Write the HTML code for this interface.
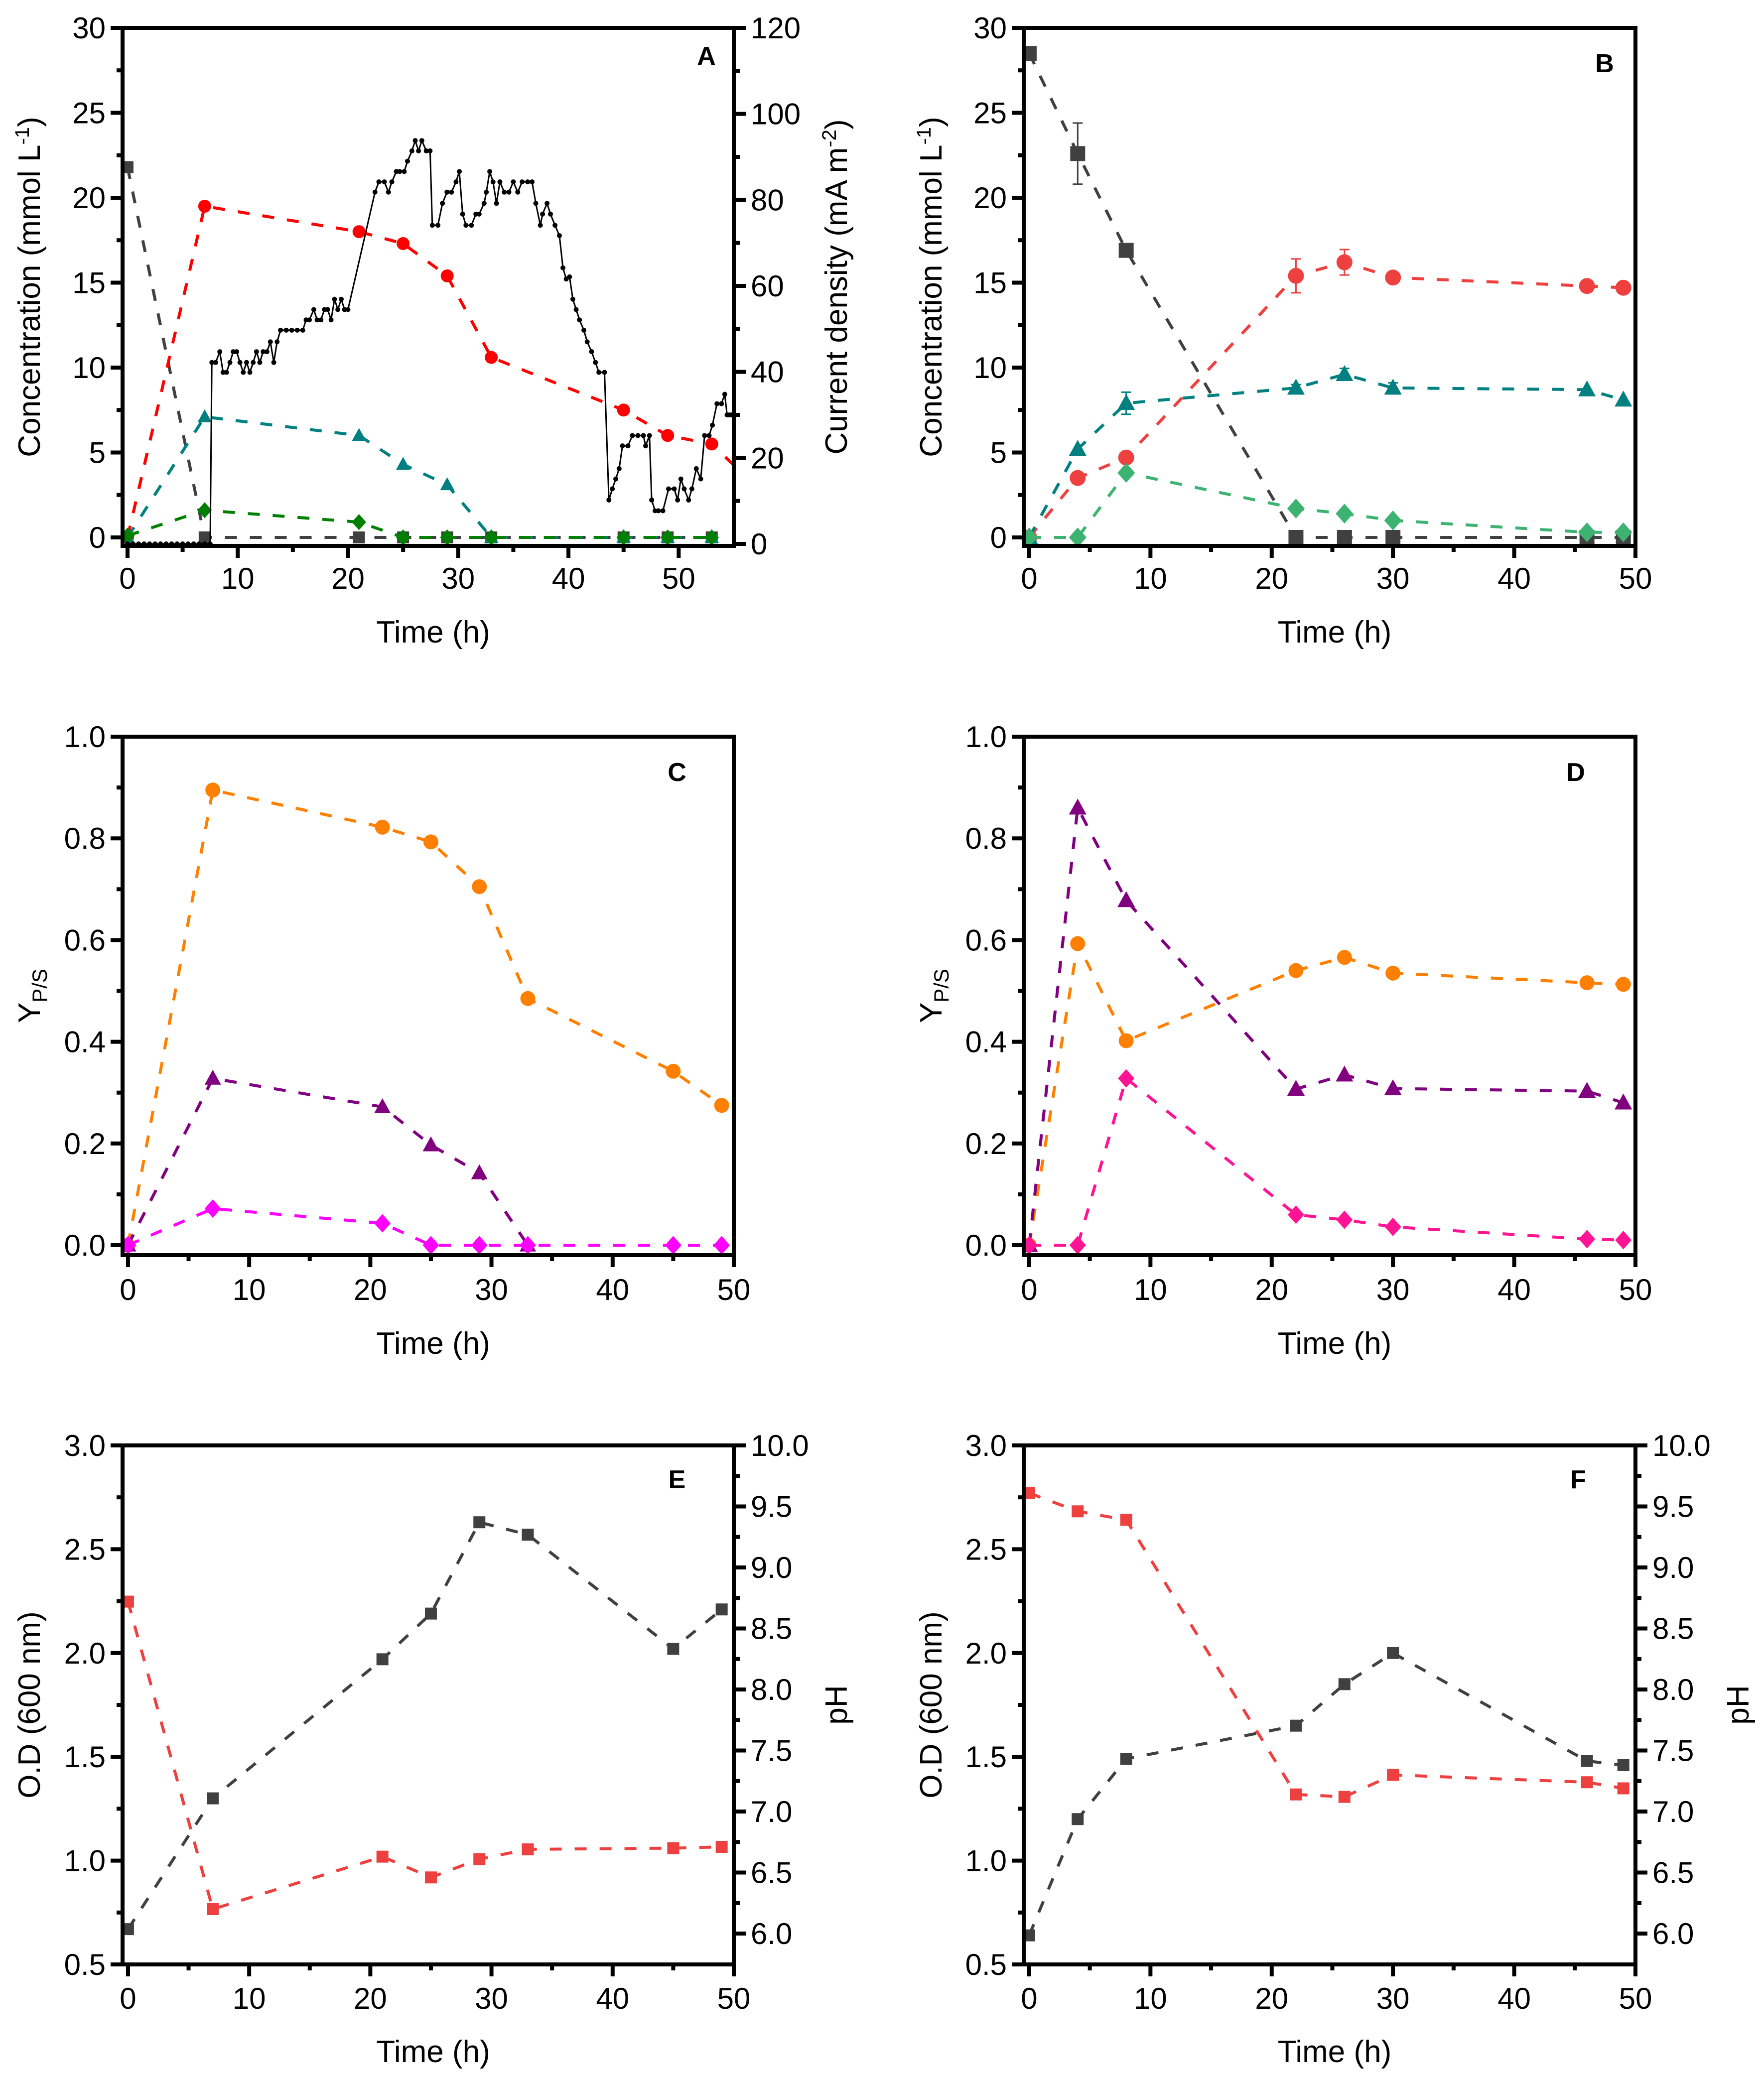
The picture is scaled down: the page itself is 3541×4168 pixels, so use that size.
<!DOCTYPE html>
<html><head><meta charset="utf-8"><style>
html,body{margin:0;padding:0;background:#fff;}
svg{display:block;font-family:"Liberation Sans",Arial,sans-serif;}
</style></head><body>
<svg id="fig" width="3541" height="4168" viewBox="0 0 3541 4168" xmlns="http://www.w3.org/2000/svg"></svg>
<script>
// ---------- DATA ----------
// Panel A
const aTime = [0, 7, 21, 25, 29, 33, 45, 49, 53];
const aGray = [21.8, 0, 0, 0, 0, 0, 0, 0, 0];
const aRedTime = [0, 7, 21, 25, 29, 33, 45, 49, 53, 57];
const aRed = [0, 19.5, 18.0, 17.3, 15.4, 10.6, 7.5, 6.0, 5.5, 3.0];
const aTeal = [0, 7.1, 6.0, 4.3, 3.1, 0, 0, 0, 0];
const aGreen = [0.1, 1.6, 0.9, 0, 0, 0, 0, 0, 0];
const curTime = [0,0.5,1,1.5,2,2.5,3,3.5,4,4.5,5,5.5,6,6.5,7,7.5,7.65,8.0,8.37,8.67,8.98,9.29,9.59,9.9,10.2,10.5,10.8,11.1,11.4,11.7,12.0,12.3,12.65,12.96,13.27,13.57,13.88,14.4,14.9,15.4,15.9,16.2,16.5,16.9,17.2,17.55,17.86,18.16,18.47,18.78,19.08,19.39,19.69,20.0,22.45,22.8,23.3,23.67,23.98,24.39,24.69,25.1,25.4,25.8,26.1,26.4,26.7,27.1,27.45,27.65,28.16,28.57,28.98,29.39,29.8,30.1,30.4,30.7,31.2,31.6,31.9,32.35,32.55,32.86,33.16,33.47,33.78,34.18,34.6,35.0,35.4,35.8,36.3,36.7,37.04,37.45,37.65,38.06,38.37,38.78,39.18,39.5,39.8,40.1,40.4,40.7,41.0,41.4,41.7,42.1,42.45,42.76,43.27,43.67,43.98,44.29,44.6,44.9,45.4,45.8,46.3,46.8,47.0,47.35,47.55,47.86,48.16,48.57,49.08,49.6,49.9,50.2,50.5,50.9,51.2,51.6,52.0,52.35,52.76,53.06,53.47,53.88,54.18,54.39,54.6,54.8];
const curVal = [0,0,0,0,0,0,0,0,0,0,0,0,0,0,0,0,42.2,42.2,44.7,39.9,39.9,42.2,44.7,44.7,42.2,39.9,42.2,39.9,42.2,44.7,42.2,44.7,44.7,47.0,42.2,47.0,49.7,49.7,49.7,49.7,49.7,52.1,52.1,54.5,52.1,52.1,54.5,54.5,52.1,56.9,54.5,56.9,54.5,54.5,81.8,84.2,84.2,81.8,84.2,86.6,86.6,86.6,89.0,91.4,93.8,91.4,93.8,91.4,91.4,74.1,74.1,79.2,81.8,81.8,84.2,86.6,76.7,74.1,74.1,76.7,76.7,79.2,81.8,86.6,84.2,79.2,84.2,81.8,81.8,84.2,81.8,84.2,84.2,84.2,79.2,74.1,76.7,79.2,76.7,74.1,71.7,64.2,61.6,62.1,56.9,54.5,52.1,49.7,47.0,44.7,42.2,39.9,39.9,10.2,12.8,15.1,17.5,22.8,22.8,25.2,25.2,25.2,22.8,25.2,10.2,7.7,7.7,7.7,12.8,12.8,10.2,15.1,12.8,10.2,12.8,17.5,15.1,25.2,25.2,27.6,32.6,32.6,34.8,30.0,30.0,30.0];
// Panel B
const bTime = [0, 4, 8, 22, 26, 30, 46, 49];
const bGray = [28.5, 22.6, 16.9, 0, 0, 0, 0, 0];
const bGrayErr = [0, 1.8, 0, 0, 0, 0, 0, 0];
const bRed = [0, 3.5, 4.7, 15.4, 16.2, 15.3, 14.8, 14.7];
const bRedErr = [0, 0, 0, 1.0, 0.75, 0, 0, 0];
const bTeal = [0, 5.2, 7.9, 8.8, 9.6, 8.8, 8.7, 8.1];
const bTealErr = [0, 0, 0.65, 0.2, 0.35, 0.3, 0, 0];
const bGreen = [0, 0, 3.8, 1.7, 1.4, 1.0, 0.3, 0.3];
// Panel C
const cTime = [0, 7, 21, 25, 29, 33, 45, 49];
const cOrange = [0, 0.895, 0.822, 0.793, 0.705, 0.485, 0.342, 0.275];
const cPurpleTime = [0, 7, 21, 25, 29, 33];
const cPurple = [0, 0.328, 0.272, 0.197, 0.142, 0];
const cMagenta = [0, 0.072, 0.043, 0, 0, 0, 0, 0];
// Panel D
const dTime = [0, 4, 8, 22, 26, 30, 46, 49];
const dOrange = [0, 0.593, 0.402, 0.540, 0.566, 0.535, 0.516, 0.513];
const dPurple = [0, 0.860, 0.678, 0.307, 0.335, 0.308, 0.303, 0.280];
const dPink = [0, 0, 0.328, 0.060, 0.050, 0.036, 0.012, 0.010];
// Panel E
const eTime = [0, 7, 21, 25, 29, 33, 45, 49];
const eOD = [0.67, 1.30, 1.97, 2.19, 2.63, 2.57, 2.02, 2.21];
const ePH = [8.72, 6.20, 6.63, 6.46, 6.61, 6.69, 6.70, 6.71];
// Panel F
const fTime = [0, 4, 8, 22, 26, 30, 46, 49];
const fOD = [0.64, 1.20, 1.49, 1.65, 1.85, 2.00, 1.48, 1.46];
const fPH = [9.61, 9.46, 9.39, 7.14, 7.12, 7.30, 7.24, 7.19];
// Tick label arrays
const xTicksA = [0, 10, 20, 30, 40, 50];
const xTicks = [0, 10, 20, 30, 40, 50];
const yTicksConc = [0, 5, 10, 15, 20, 25, 30];
const yTicksCur = [0, 20, 40, 60, 80, 100, 120];
const yTicksYield = ["0.0", "0.2", "0.4", "0.6", "0.8", "1.0"];
const yTicksOD = ["0.5", "1.0", "1.5", "2.0", "2.5", "3.0"];
const yTicksPH = ["6.0", "6.5", "7.0", "7.5", "8.0", "8.5", "9.0", "9.5", "10.0"];

// ---------- DRAW ----------
const NS = "http://www.w3.org/2000/svg";
const svg = document.getElementById("fig");
function mk(tag, attrs, parent) {
  const e = document.createElementNS(NS, tag);
  for (const k in attrs) e.setAttribute(k, attrs[k]);
  (parent || svg).appendChild(e);
  return e;
}
function panel(name, L, R, T, B, xmin, xmax, ymin, ymax) {
  const g = mk("g", {});
  
  
  const clipId = name + "-clip";
  const cp = mk("clipPath", {id: clipId}, g);
  mk("rect", {x: L, y: T, width: R - L, height: B - T}, cp);
  const plot = mk("g", {"clip-path": "url(#" + clipId + ")"}, g);
  return {g, plot, L, R, T, B,
    sx: v => L + (v - xmin) / (xmax - xmin) * (R - L),
    sy: v => B - (v - ymin) / (ymax - ymin) * (B - T),
    ymin, ymax};
}
function frame(p, rightLine) {
  const f = mk("path", {d: `M${p.L} ${p.B}V${p.T}H${p.R}V${p.B}Z`, fill: "none", stroke: "#000", "stroke-width": 8}, p.g);
  
  
}
function xAxis(p, ticks, minorStep, labelY, title, titleY) {
  for (let v = ticks[0]; v <= ticks[ticks.length - 1] + 1e-9; v += minorStep) {
    const x = p.sx(v);
    const major = ticks.some(t => Math.abs(t - v) < 1e-9);
    mk("line", {x1: x, x2: x, y1: p.B, y2: p.B + (major ? 24 : 12), stroke: "#000", "stroke-width": 8}, p.g);
  }
  ticks.forEach(v => {
    const t = mk("text", {x: p.sx(v), y: labelY, "font-size": 60, "text-anchor": "middle"}, p.g);
    t.textContent = v;
    
    
  });
  const tt = mk("text", {x: (p.L + p.R) / 2 + 10, y: titleY, "font-size": 62, "text-anchor": "middle"}, p.g);
  tt.textContent = title;
  
  
}
function yAxis(p, labels, minorStep, side, sy) {
  const vals = labels.map(Number);
  sy = sy || p.sy;
  const x0 = side === "left" ? p.L : p.R, dir = side === "left" ? -1 : 1;
  for (let v = vals[0]; v <= vals[vals.length - 1] + 1e-9; v += minorStep) {
    const y = sy(v);
    const major = vals.some(t => Math.abs(t - v) < 1e-9);
    mk("line", {x1: x0, x2: x0 + dir * (major ? 24 : 12), y1: y, y2: y, stroke: "#000", "stroke-width": 8}, p.g);
  }
  labels.forEach((s, i) => {
    const t = mk("text", {x: x0 + dir * 34, y: sy(vals[i]) + 21, "font-size": 60, "text-anchor": side === "left" ? "end" : "start"}, p.g);
    t.textContent = s;
    
    
  });
}
function yTitle(p, x, html, name) {
  const cy = (p.T + p.B) / 2;
  const t = mk("text", {x: x, y: cy, "font-size": 62, "text-anchor": "middle", transform: `rotate(-90 ${x} ${cy})`}, p.g);
  t.innerHTML = html;
  
  
}
function letter(p, x, y, s) {
  const t = mk("text", {x, y, "font-size": 52, "font-weight": "bold", "text-anchor": "middle"}, p.g);
  t.textContent = s;
  
  
}
function marker(parent, shape, x, y, s, color) {
  let e;
  if (shape === "square") e = mk("rect", {x: x - s / 2, y: y - s / 2, width: s, height: s, fill: color}, parent);
  else if (shape === "circle") e = mk("circle", {cx: x, cy: y, r: s / 2, fill: color}, parent);
  else if (shape === "triangle") e = mk("path", {d: `M${x} ${y - s * 0.58}L${x + s * 0.55} ${y + s * 0.42}L${x - s * 0.55} ${y + s * 0.42}Z`, fill: color}, parent);
  else e = mk("path", {d: `M${x} ${y - s * 0.62}L${x + s * 0.55} ${y}L${x} ${y + s * 0.62}L${x - s * 0.55} ${y}Z`, fill: color}, parent);
  return e;
}
function series(p, name, xs, ys, color, shape, size, sy, errs, markN) {
  sy = sy || p.sy;
  const g = mk("g", {}, p.plot);
  
  
  const pts = xs.map((x, i) => p.sx(x) + "," + sy(ys[i])).join(" ");
  mk("polyline", {points: pts, fill: "none", stroke: color, "stroke-width": 6, "stroke-dasharray": "24,26"}, g);
  if (errs) errs.forEach((e, i) => {
    if (!e) return;
    const x = p.sx(xs[i]), y1 = sy(ys[i] - e), y2 = sy(ys[i] + e);
    mk("path", {d: `M${x} ${y1}V${y2}M${x - 10} ${y1}H${x + 10}M${x - 10} ${y2}H${x + 10}`, stroke: color, "stroke-width": 3, fill: "none"}, g);
  });
  const n = markN == null ? xs.length : markN;
  for (let i = 0; i < n; i++) {
    const m = marker(g, shape, p.sx(xs[i]), sy(ys[i]), size, color);
    
    
  }
}

// ---- Panel A ----
const A = panel("panel-a", 246, 1473, 56, 1096, -0.45, 55, -0.5, 30);
const aCurY = v => 1092 - v * (1092 - 56) / 120;
series(A, "a-substrate", aTime, aGray, "#404040", "square", 24);
series(A, "a-red-product", aRedTime, aRed, "#ff0000", "circle", 26, null, null, 9);
series(A, "a-teal-product", aTime, aTeal, "#008080", "triangle", 26);
series(A, "a-green-product", aTime, aGreen, "#008000", "diamond", 26);
{
  const g = mk("g", {}, A.plot);
  
  
  mk("polyline", {points: curTime.map((t, i) => A.sx(t) + "," + aCurY(curVal[i])).join(" "), fill: "none", stroke: "#000", "stroke-width": 3}, g);
  curTime.forEach((t, i) => mk("circle", {cx: A.sx(t), cy: aCurY(curVal[i]), r: 5, fill: "#000"}, g));
}
frame(A);
xAxis(A, xTicksA, 5, 1182, "Time (h)", 1290);
yAxis(A, yTicksConc.map(String), 2.5, "left");
yAxis(A, yTicksCur.map(String), 10, "right", aCurY);
yTitle(A, 80, 'Concentration (mmol L<tspan dy="-22" font-size="40">-1</tspan><tspan dy="22">)</tspan>', "left-y-axis-title");
yTitle(A, 1700, 'Current density (mA m<tspan dy="-22" font-size="40">-2</tspan><tspan dy="22">)</tspan>', "right-y-axis-title");
letter(A, 1418, 130, "A");

// ---- Panel B ----
const Bp = panel("panel-b", 2055, 3283, 56, 1096, -0.45, 50, -0.5, 30);
series(Bp, "b-substrate", bTime, bGray, "#404040", "square", 30, null, bGrayErr);
series(Bp, "b-red-product", bTime, bRed, "#ef4040", "circle", 32, null, bRedErr);
series(Bp, "b-teal-product", bTime, bTeal, "#008080", "triangle", 32, null, bTealErr);
series(Bp, "b-green-product", bTime, bGreen, "#3cb371", "diamond", 32);
frame(Bp);
xAxis(Bp, xTicks, 5, 1182, "Time (h)", 1290);
yAxis(Bp, yTicksConc.map(String), 2.5, "left");
yTitle(Bp, 1890, 'Concentration (mmol L<tspan dy="-22" font-size="40">-1</tspan><tspan dy="22">)</tspan>', "left-y-axis-title");
letter(Bp, 3221, 145, "B");

// ---- Panel C ----
const C = panel("panel-c", 246, 1473, 1479, 2520, -0.45, 50, -0.0196, 1);
series(C, "c-orange-yield", cTime, cOrange, "#ff8000", "circle", 30);
series(C, "c-purple-yield", cPurpleTime, cPurple, "#800080", "triangle", 30);
series(C, "c-magenta-yield", cTime, cMagenta, "#ff00ff", "diamond", 30);
frame(C);
xAxis(C, xTicks, 5, 2610, "Time (h)", 2718);
yAxis(C, yTicksYield, 0.1, "left");
yTitle(C, 80, 'Y<tspan dy="14" font-size="42">P/S</tspan>', "left-y-axis-title");
letter(C, 1359, 1568, "C");

// ---- Panel D ----
const D = panel("panel-d", 2055, 3283, 1479, 2520, -0.45, 50, -0.0196, 1);
series(D, "d-orange-yield", dTime, dOrange, "#ff8000", "circle", 30);
series(D, "d-purple-yield", dTime, dPurple, "#800080", "triangle", 32);
series(D, "d-pink-yield", dTime, dPink, "#ff1493", "diamond", 30);
frame(D);
xAxis(D, xTicks, 5, 2610, "Time (h)", 2718);
yAxis(D, yTicksYield, 0.1, "left");
yTitle(D, 1890, 'Y<tspan dy="14" font-size="42">P/S</tspan>', "left-y-axis-title");
letter(D, 3163, 1568, "D");

// ---- Panel E ----
const E = panel("panel-e", 246, 1473, 2902, 3944, -0.45, 50, 0.5, 3.0);
const phY = v => 3882 - (v - 6) * 245;
series(E, "e-od", eTime, eOD, "#404040", "square", 24);
series(E, "e-ph", eTime, ePH, "#ef4040", "square", 24, phY);
frame(E);
xAxis(E, xTicks, 5, 4033, "Time (h)", 4140);
yAxis(E, yTicksOD, 0.25, "left");
yAxis(E, yTicksPH, 0.25, "right", phY);
yTitle(E, 80, 'O.D (600 nm)', "left-y-axis-title");
yTitle(E, 1700, 'pH', "right-y-axis-title");
letter(E, 1359, 2988, "E");

// ---- Panel F ----
const F = panel("panel-f", 2055, 3283, 2902, 3944, -0.45, 50, 0.5, 3.0);
series(F, "f-od", fTime, fOD, "#404040", "square", 24);
series(F, "f-ph", fTime, fPH, "#ef4040", "square", 24, phY);
frame(F);
xAxis(F, xTicks, 5, 4033, "Time (h)", 4140);
yAxis(F, yTicksOD, 0.25, "left");
yAxis(F, yTicksPH, 0.25, "right", phY);
yTitle(F, 1890, 'O.D (600 nm)', "left-y-axis-title");
yTitle(F, 3510, 'pH', "right-y-axis-title");
letter(F, 3168, 2988, "F");
</script>
</body></html>
